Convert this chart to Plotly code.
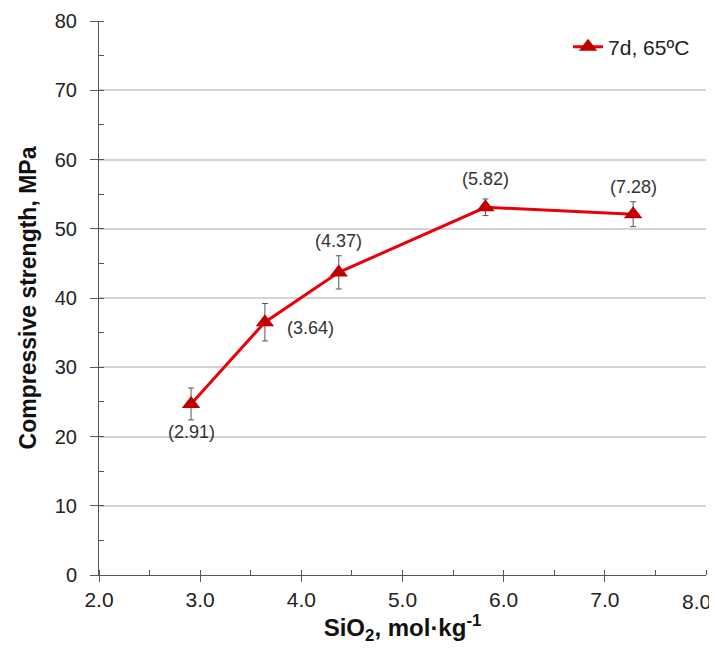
import plotly.graph_objects as go

sio2 = [2.91, 3.64, 4.37, 5.82, 7.28]
strength = [24.7, 36.5, 43.7, 53.1, 52.1]
err = [2.3, 2.7, 2.4, 1.2, 1.8]
labels = ["(2.91)", "(3.64)", "(4.37)", "(5.82)", "(7.28)"]
label_dx = [0, 46, 0, 0, 0]
label_dy = [-28, -6, 31, 28, 27]
x_ticks = [2, 3, 4, 5, 6, 7, 8]
x_ticktext = ["2.0", "3.0", "4.0", "5.0", "6.0", "7.0", "8.0"]

FONT = "Liberation Sans, Arial"

fig = go.Figure()
fig.add_trace(go.Scatter(
    x=sio2, y=strength, mode="lines+markers",
    name="7d, 65ºC", showlegend=True,
    line=dict(color="#e8000b", width=3),
    marker=dict(symbol="triangle-up", size=16, color="#c00000"),
    error_y=dict(type="data", array=err, visible=True, color="#555555", thickness=1, width=3),
))

for x, y, t, dx, dy in zip(sio2, strength, labels, label_dx, label_dy):
    fig.add_annotation(x=x, y=y, text=t, showarrow=False, xshift=dx, yshift=dy,
                       font=dict(family=FONT, size=18, color="#333333"))

# last x tick label (near the right edge as in the original)
fig.add_annotation(x=x_ticks[-1], y=0, xref="x", yref="y", text=x_ticktext[-1], showarrow=False,
                   xshift=-10, yshift=-26, font=dict(family=FONT, size=21, color="#222222"))

fig.update_layout(
    width=709, height=637,
    margin=dict(l=91, r=11, t=13, b=70),
    paper_bgcolor="white", plot_bgcolor="white",
    font=dict(family=FONT, size=18, color="#222222"),
    showlegend=True,
    legend=dict(x=0.982, y=0.99, xanchor="right", yanchor="top",
                bgcolor="rgba(0,0,0,0)", font=dict(size=21, color="#222222"),
                itemwidth=30),
    xaxis=dict(
        range=[2.0, 8.0], tickvals=x_ticks[:-1], ticktext=x_ticktext[:-1],
        showgrid=False, zeroline=False, automargin=False,
        showline=True, linecolor="#555555", linewidth=1,
        ticks="outside", ticklen=6, tickcolor="#555555",
        minor=dict(dtick=0.5, tick0=2.0, ticks="inside", ticklen=5, tickcolor="#555555", showgrid=False),
        title=dict(text="<b>SiO<sub>2</sub>, mol·kg<sup>-1</sup></b>", font=dict(size=24, color="#111111"), standoff=10),
        tickfont=dict(size=21, color="#222222"),
    ),
    yaxis=dict(
        range=[0, 80], dtick=10, tick0=0,
        showgrid=True, gridcolor="#d4d4d4", gridwidth=1.5, zeroline=False, automargin=False,
        showline=True, linecolor="#555555", linewidth=1,
        ticks="outside", ticklen=8, tickcolor="#555555",
        minor=dict(dtick=5, ticks="inside", ticklen=5, tickcolor="#555555", showgrid=False),
        ticklabelstandoff=9,
        title=dict(text="<b>Compressive strength, MPa</b>", font=dict(size=23, color="#111111"), standoff=11),
        tickfont=dict(size=20, color="#222222"),
    ),
)

fig.write_html("out.html")
